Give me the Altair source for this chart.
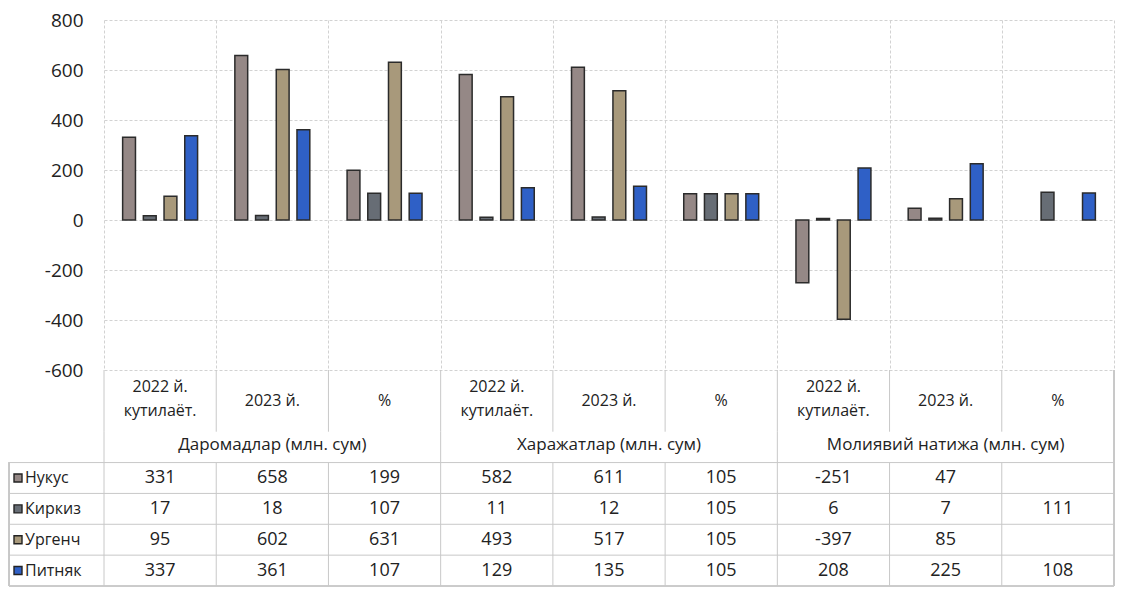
import altair as alt
import pandas as pd

groups = ["Даромадлар (млн. сум)", "Харажатлар (млн. сум)", "Молиявий натижа (млн. сум)"]
periods = ["2022 й.\nкутилаёт.", "2023 й.", "%"]
series = ["Нукус", "Киркиз", "Ургенч", "Питняк"]
colors = ["#958886", "#676d75", "#a8997b", "#2f60c6"]

nukus = [331, 658, 199, 582, 611, 105, -251, 47, None]
kirkiz = [17, 18, 107, 11, 12, 105, 6, 7, 111]
urgench = [95, 602, 631, 493, 517, 105, -397, 85, None]
pitnyak = [337, 361, 107, 129, 135, 105, 208, 225, 108]
y_ticks = [-600, -400, -200, 0, 200, 400, 600, 800]

values = {"Нукус": nukus, "Киркиз": kirkiz, "Ургенч": urgench, "Питняк": pitnyak}
cats = [f"{g} | {p}" for g in groups for p in periods]
table_rows = ["p1", "p2", "hdr"] + series

bar_rows, text_rows = [], []
for s in series:
    for i, v in enumerate(values[s]):
        if v is not None:
            bar_rows.append({"cat": cats[i], "series": s, "value": v})
            text_rows.append({"cat": cats[i], "row": s, "text": str(v)})
bar_df = pd.DataFrame(bar_rows)
text_df = pd.DataFrame(text_rows)
period_df = pd.DataFrame([{"cat": cats[i], "row": "p1", "text": periods[i % 3],
                           "multi": "\n" in periods[i % 3]} for i in range(len(cats))])
header_df = pd.DataFrame([{"cat": cats[3 * g + 1], "row": "hdr", "text": groups[g]} for g in range(len(groups))])
series_df = pd.DataFrame({"row": series, "series": series})
vall_df = pd.DataFrame({"cat": cats})
vgrp_df = pd.DataFrame({"cat": [cats[0], cats[3], cats[6]]})

W = 1010
TOP_H = 350
BOT_H = 216
STEP = BOT_H / len(table_rows)
LEFT = 95
FONT = "Open Sans"
TXT = "#222222"
GRID = "#d2d2d2"
LINE = "#c8c8c8"

x_scale = alt.Scale(domain=cats, paddingInner=0, paddingOuter=0)
xoff_scale = alt.Scale(domain=series, paddingInner=0.38, paddingOuter=0.9)
color_scale = alt.Scale(domain=series, range=colors)
row_scale = alt.Scale(domain=table_rows, paddingInner=0, paddingOuter=0)

bars = alt.Chart(bar_df).mark_bar(stroke="#2b2b2b", strokeWidth=1.5).encode(
    x=alt.X("cat:N", scale=x_scale, sort=cats,
            axis=alt.Axis(labels=False, ticks=False, domain=False, title=None, grid=True,
                          tickBand="extent", gridColor=GRID, gridDash=[3, 2])),
    xOffset=alt.XOffset("series:N", scale=xoff_scale, sort=series),
    y=alt.Y("value:Q", scale=alt.Scale(domain=[-600, 800], nice=False),
            axis=alt.Axis(values=y_ticks, title=None, domain=False, ticks=False,
                          labelExpr="'' + datum.value",
                          labelPadding=21, labelFontSize=19, labelColor=TXT, labelFont=FONT,
                          gridColor=GRID, gridDash=[3, 2])),
    color=alt.Color("series:N", scale=color_scale, legend=None),
).properties(width=W, height=TOP_H)

xenc = alt.X("cat:N", scale=x_scale, sort=cats, axis=None)
xenc0 = alt.X("cat:N", scale=x_scale, sort=cats, axis=None, bandPosition=0)
yenc = alt.Y("row:N", scale=row_scale, sort=table_rows, axis=None)
yedge = alt.Y("row:N", scale=row_scale, sort=table_rows, axis=None, bandPosition=1)

base = alt.Chart(text_df)

v_cat = alt.Chart(vall_df).mark_rule(color=LINE, strokeWidth=1).encode(
    x=xenc0, y=alt.value(0), y2=alt.value(2 * STEP))
v_data = alt.Chart(vall_df).mark_rule(color=LINE, strokeWidth=1).encode(
    x=xenc0, y=alt.value(3 * STEP), y2=alt.value(BOT_H))
v_grp = alt.Chart(vgrp_df).mark_rule(color=LINE, strokeWidth=1).encode(
    x=xenc0, y=alt.value(2 * STEP), y2=alt.value(3 * STEP))
v_right = alt.Chart(vall_df).mark_rule(color=LINE, strokeWidth=1).encode(
    x=alt.value(W), y=alt.value(0), y2=alt.value(BOT_H))
v_left = alt.Chart(vall_df).mark_rule(color=LINE, strokeWidth=1).encode(
    x=alt.value(-LEFT), y=alt.value(3 * STEP), y2=alt.value(BOT_H))
h_rows = alt.Chart(series_df).mark_rule(color=LINE, strokeWidth=1).encode(
    y=alt.Y("row:N", scale=row_scale, sort=table_rows, axis=None, bandPosition=0),
    x=alt.value(-LEFT), x2=alt.value(W))
h_bottom = alt.Chart(series_df).mark_rule(color=LINE, strokeWidth=1).encode(
    y=alt.value(BOT_H), x=alt.value(-LEFT), x2=alt.value(W))

period_single = alt.Chart(period_df).transform_filter("!datum.multi").mark_text(
    font=FONT, fontSize=16, color=TXT, baseline="middle").encode(
    x=xenc, y=yedge, text="text:N")
period_multi = alt.Chart(period_df).transform_filter("datum.multi").mark_text(
    font=FONT, fontSize=16, color=TXT, lineBreak="\n", lineHeight=24, baseline="middle", dy=-14).encode(
    x=xenc, y=yedge, text="text:N")
header_txt = alt.Chart(header_df).mark_text(font=FONT, fontSize=17, color=TXT, baseline="middle", dy=-2).encode(
    x=xenc, y=yenc, text="text:N")
value_txt = base.mark_text(font=FONT, fontSize=18, color=TXT, baseline="middle").encode(
    x=xenc, y=yenc, text="text:N")
squares = alt.Chart(series_df).mark_square(size=64, stroke="#222222", strokeWidth=1.4, opacity=1).encode(
    x=alt.value(-86), y=yenc, color=alt.Color("series:N", scale=color_scale, legend=None))
row_lbl = alt.Chart(series_df).mark_text(font=FONT, fontSize=16, color=TXT, align="left", baseline="middle").encode(
    x=alt.value(-79), y=yenc, text="row:N")

table = alt.layer(v_cat, v_data, v_grp, v_right, v_left, h_rows, h_bottom,
                  period_single, period_multi, header_txt, value_txt, squares, row_lbl
                  ).properties(width=W, height=BOT_H)

chart = alt.vconcat(bars, table, spacing=0, bounds="flush").resolve_scale(
    y="independent", x="shared", color="shared"
).properties(
    padding={"left": 0, "top": 2, "right": 0, "bottom": 0},
    background="white",
).configure_view(stroke="transparent")

chart.save("out.html", embed_options={"renderer": "svg", "actions": False})
